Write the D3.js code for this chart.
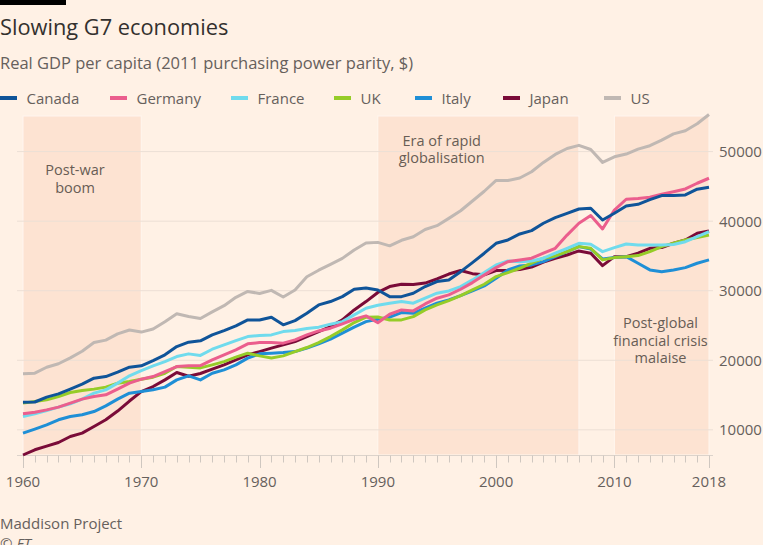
<!DOCTYPE html>
<html>
<head>
<meta charset="utf-8">
<script src="https://cdn.jsdelivr.net/npm/d3@7"></script>
<style>
  html, body { margin: 0; padding: 0; background: #fff1e5; }
  svg { display: block; }
  text { font-family: "Open Sans", "Noto Sans", sans-serif; }
</style>
</head>
<body>
<svg id="chart" width="763" height="545"></svg>
<script>
// ---------------- DATA ----------------
const years = d3.range(1960, 2019);
const seriesNames = ["Canada", "Germany", "France", "UK", "Italy", "Japan", "US"];
const canada = [13980,14000,14700,15170,15850,16560,17430,17660,18290,19010,
  19200,19960,20780,21970,22600,22800,23650,24270,24940,25800,
  25800,26190,25090,25700,26770,27960,28440,29150,30210,30400,
  30100,29150,29150,29640,30600,31310,31550,32740,34040,35390,
  36820,37300,38160,38640,39700,40500,41130,41750,41850,40170,
  41130,42180,42420,43100,43680,43680,43770,44600,44870];
const germany = [12300,12540,12870,13260,13840,14410,14790,15030,15850,16710,
  17280,17660,18380,19100,19200,19240,20060,20780,21490,22360,
  22540,22540,22460,22930,23650,24220,24610,25230,25900,26380,
  25400,26620,27240,27100,28100,28920,29400,30210,31170,32270,
  33320,34180,34430,34670,35400,36100,38000,39700,40800,38880,
  41600,43150,43250,43430,43860,44240,44630,45450,46170];
const france = [11920,12300,12770,13260,13740,14410,15270,15750,16710,17760,
  18520,19200,19810,20530,20920,20700,21590,22210,22830,23410,
  23550,23650,24120,24270,24560,24760,25190,25560,26520,27480,
  27900,28200,28440,28200,28920,29640,29970,30600,31550,32600,
  33710,34280,34180,34280,34670,35390,36100,36820,36680,35620,
  36200,36720,36580,36580,36580,36650,37050,37770,38490];
const uk = [13840,14070,14310,14790,15360,15650,15850,16140,16710,16950,
  17280,17570,18140,19100,19010,18900,19340,19810,20450,21020,
  20630,20340,20630,21250,21830,22540,23410,24370,25420,26190,
  26230,25800,25800,26280,27240,27960,28580,29300,30110,30930,
  32030,32600,33230,33950,34670,35000,35620,36340,36100,34430,
  34760,34900,35050,35620,36340,36820,37300,37630,38020];
const italy = [9520,10100,10720,11440,11920,12160,12630,13450,14410,15270,
  15500,15750,16140,17180,17760,17180,18140,18620,19340,20300,
  20920,21020,21110,21250,21740,22360,23030,23890,24760,25560,
  25900,26190,26860,26760,27480,28200,28680,29300,29970,30690,
  31800,32990,33560,33710,34180,34900,35620,36340,36000,34570,
  34760,34900,33950,32990,32740,32990,33320,33950,34430];
const japan = [6380,7130,7650,8180,9040,9520,10470,11440,12700,14140,
  15500,16220,17180,18240,17700,18100,18720,19340,20060,20780,
  21250,21740,22210,22690,23410,24120,24840,25800,27240,28440,
  29750,30600,30930,30900,31100,31700,32400,32900,32450,32300,
  32900,32950,33050,33400,34100,34670,35140,35720,35390,33610,
  34900,34900,35390,36100,36200,36820,37300,38260,38590];
const us = [18058,18150,19000,19500,20350,21300,22550,22900,23800,24350,
  24050,24500,25550,26700,26300,26000,26950,27850,29050,29900,
  29600,30050,29100,30100,32000,32950,33800,34650,35850,36850,
  36950,36450,37250,37750,38800,39350,40400,41500,42900,44300,
  45850,45850,46200,47100,48450,49600,50450,50900,50300,48450,
  49250,49650,50350,50850,51650,52550,53000,54000,55335];
const seriesValues = [canada, germany, france, uk, italy, japan, us];
const seriesColors = ["#0f5499", "#eb5e8d", "#70dbed", "#96cc28", "#1f8fd6", "#7a0b38", "#c0b8b3"];
const yTicks = [10000, 20000, 30000, 40000, 50000];
const xTickLabels = [1960, 1970, 1980, 1990, 2000, 2010, 2018];
const periodStart = [1960, 1990, 2010];
const periodEnd = [1970, 2007, 2018];
const periodLabels = [["Post-war", "boom"], ["Era of rapid", "globalisation"], ["Post-global", "financial crisis", "malaise"]];
// anchor (year, value) of each period label's first line
const labelYears = [1964.4, 1995.4, 2013.9];
const labelValues = [46600, 50800, 24570];

// ---------------- CHART ----------------
const svg = d3.select("#chart");
const textCol = "#66605c";

const allVals = seriesValues.flat();
const x = d3.scaleLinear().domain([1960, 2018]).range([23, 709]);
const y = d3.scaleLinear().domain([d3.min(allVals), d3.max(allVals)]).range([455, 114.5]);

// Top bar
svg.append("rect").attr("x", 0).attr("y", 0).attr("width", 66).attr("height", 5).attr("fill", "#000");

// Title & subtitle
svg.append("text").attr("x", 0).attr("y", 35).attr("font-size", 21.8).attr("fill", "#33302e")
  .text("Slowing G7 economies");
svg.append("text").attr("x", 0).attr("y", 69).attr("font-size", 16.5).attr("fill", textCol)
  .text("Real GDP per capita (2011 purchasing power parity, $)");

// Legend (layout x positions of each swatch)
const legendX = [0, 110, 231, 334, 415, 503, 604];
const legend = svg.append("g");
seriesNames.forEach((name, i) => {
  legend.append("rect").attr("x", legendX[i]).attr("y", 96).attr("width", 17).attr("height", 4)
    .attr("fill", seriesColors[i]);
  legend.append("text").attr("x", legendX[i] + 26.5).attr("y", 103.5).attr("font-size", 15)
    .attr("fill", textCol).text(name);
});

// Shaded periods
const shadeG = svg.append("g");
periodStart.forEach((s, i) => {
  shadeG.append("rect")
    .attr("x", x(s)).attr("y", y.range()[1] + 1.5)
    .attr("width", x(periodEnd[i]) - x(s))
    .attr("height", y.range()[0] - y.range()[1] - 1.5)
    .attr("fill", "#fde3d2")
    .attr("stroke", "#fff6ef").attr("stroke-width", 1);
});

// Gridlines + y labels
const grid = svg.append("g");
yTicks.forEach(v => {
  grid.append("line").attr("x1", 17).attr("x2", 713).attr("y1", y(v)).attr("y2", y(v))
    .attr("stroke", "#ecdfd5").attr("stroke-width", 1);
  svg.append("text").attr("x", 719).attr("y", y(v) + 5.5).attr("font-size", 15)
    .attr("fill", textCol).text(v);
});

// X axis
const axisG = svg.append("g");
axisG.append("line").attr("x1", 17).attr("x2", 713).attr("y1", 455.5).attr("y2", 455.5)
  .attr("stroke", "#dcd3cb").attr("stroke-width", 1);
years.forEach(yr => {
  const major = xTickLabels.includes(yr);
  axisG.append("line").attr("x1", Math.round(x(yr)) + 0.5).attr("x2", Math.round(x(yr)) + 0.5)
    .attr("y1", 455.5).attr("y2", major ? 468 : 462.5)
    .attr("stroke", "#cfc7c0").attr("stroke-width", 1);
});
xTickLabels.forEach(yr => {
  axisG.append("text").attr("x", x(yr)).attr("y", 487).attr("text-anchor", "middle")
    .attr("font-size", 15).attr("fill", textCol).text(yr);
});

// Period labels
periodLabels.forEach((lines, i) => {
  lines.forEach((ln, j) => {
    svg.append("text").attr("text-anchor", "middle").attr("font-size", 14.5).attr("fill", "#685d55")
      .attr("x", x(labelYears[i])).attr("y", y(labelValues[i]) + j * 17.3).text(ln);
  });
});

// Lines
const line = d3.line().x((d, i) => x(years[i])).y(d => y(d));
const order = [6, 5, 4, 3, 2, 1, 0];
order.forEach(i => {
  svg.append("path").datum(seriesValues[i])
    .attr("d", line)
    .attr("fill", "none")
    .attr("stroke", seriesColors[i])
    .attr("stroke-width", 3)
    .attr("stroke-linejoin", "round")
    .attr("stroke-linecap", "butt");
});

// Source
svg.append("text").attr("x", 0).attr("y", 529).attr("font-size", 15).attr("fill", textCol)
  .text("Maddison Project");
svg.append("text").attr("x", 0).attr("y", 549).attr("font-size", 15).attr("fill", textCol)
  .attr("font-style", "italic").text("© FT");
</script>
</body>
</html>
